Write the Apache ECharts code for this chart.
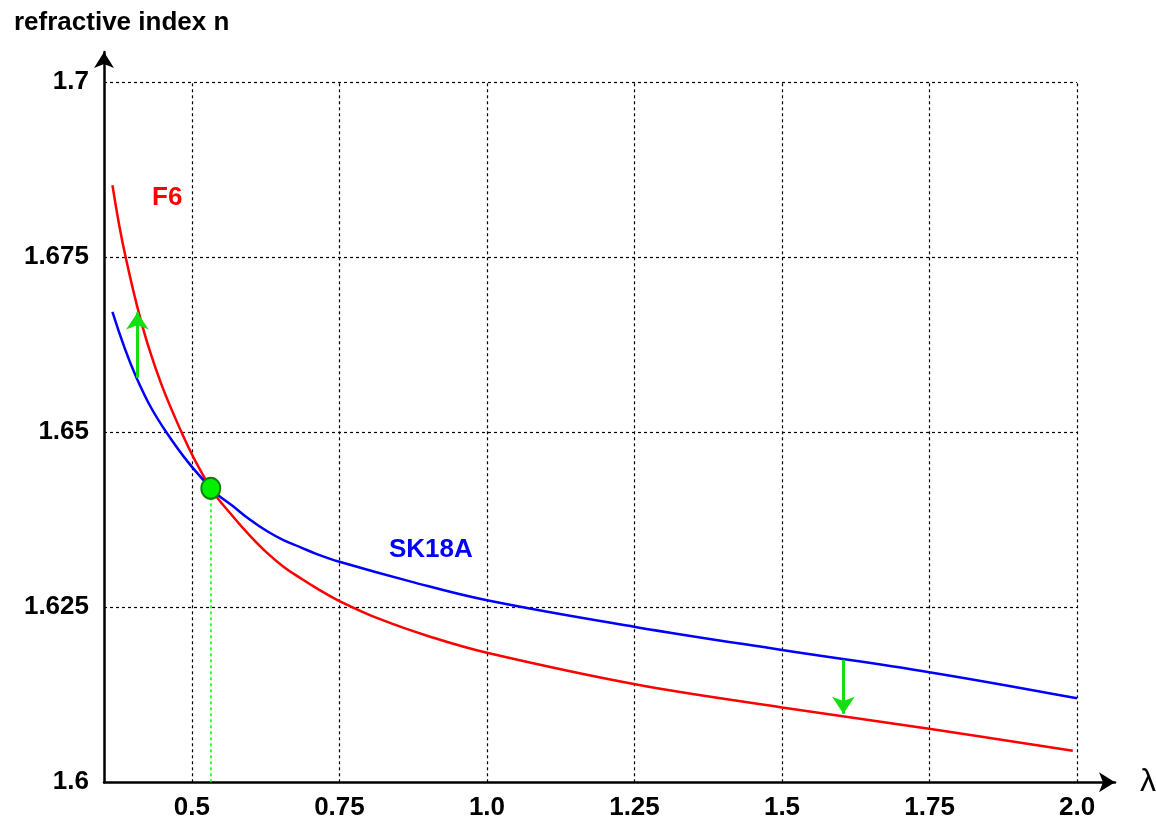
<!DOCTYPE html>
<html>
<head>
<meta charset="utf-8">
<script src="https://cdn.jsdelivr.net/npm/echarts@6/dist/echarts.min.js"></script>
<style>
html,body{margin:0;padding:0;background:#fff;}
#chart{width:1156px;height:816px;}
</style>
</head>
<body>
<div id="chart"></div>
<script>
// ---- data ----
const lambdaF6 = [0.3653, 0.388, 0.428, 0.4829, 0.532, 0.5703, 0.5986, 0.6269, 0.6551, 0.6834, 0.7117, 0.75, 0.8189, 0.9036, 1.0, 1.2511, 1.5002, 1.7521, 1.9928];
const nF6      = [1.6853, 1.6749, 1.6618, 1.6499, 1.6420, 1.6379, 1.6352, 1.6328, 1.6308, 1.6292, 1.6277, 1.6259, 1.6233, 1.6208, 1.6185, 1.6140, 1.6107, 1.6076, 1.6045];
const lambdaSK18A = [0.3653, 0.4066, 0.4575, 0.532, 0.5703, 0.5986, 0.6269, 0.6551, 0.6834, 0.7117, 0.75, 0.8697, 1.0, 1.2511, 1.5, 1.7521, 2.0];
const nSK18A      = [1.6672, 1.6577, 1.6499, 1.6420, 1.6394, 1.6375, 1.6359, 1.6346, 1.6336, 1.6326, 1.6315, 1.6287, 1.6260, 1.6222, 1.6189, 1.6157, 1.6120];
const crossPoint = [0.532, 1.642];
const arrowUp   = [[0.4076, 1.6578], [0.4076, 1.6671]];
const arrowDown = [[1.604, 1.6175], [1.604, 1.6098]];
const xTickValues = [0.5, 0.75, 1.0, 1.25, 1.5, 1.75, 2.0];
const xTickLabels = ['0.5', '0.75', '1.0', '1.25', '1.5', '1.75', '2.0'];
const yTickValues = [1.6, 1.625, 1.65, 1.675, 1.7];
const yTickLabels = ['1.6', '1.625', '1.65', '1.675', '1.7'];
const xMin = 0.351, xMax = 2.0643, yMin = 1.6, yMax = 1.70433;
const gridXEnd = 2.0, gridYEnd = 1.7;

const FONT = '"Liberation Sans", Arial, sans-serif';

const gridLines = [];
xTickValues.forEach(v => gridLines.push({coords: [[v, yMin], [v, gridYEnd]]}));
yTickValues.forEach(v => { if (v !== yMin) gridLines.push({coords: [[xMin, v], [gridXEnd, v]]}); });

const chart = echarts.init(document.getElementById('chart'));
chart.setOption({
  animation: false,
  backgroundColor: '#fff',
  title: [
    {text: 'refractive index n', left: 9, top: 5, textStyle: {fontFamily: FONT, fontSize: 26, fontWeight: 'bold', color: '#000'}},
    {text: 'F6', left: 147, top: 180, textStyle: {fontFamily: FONT, fontSize: 26, fontWeight: 'bold', color: '#ff0000'}},
    {text: 'SK18A', left: 384, top: 532, textStyle: {fontFamily: FONT, fontSize: 26, fontWeight: 'bold', color: '#0000ff'}}
  ],
  grid: {left: 104, right: 41, top: 52, bottom: 33.7, containLabel: false, outerBoundsMode: 'none'},
  xAxis: {
    type: 'value', min: xMin, max: xMax,
    name: 'λ', nameLocation: 'end', nameGap: 25,
    nameTextStyle: {fontFamily: FONT, fontSize: 32, color: '#000', verticalAlign: 'middle', padding: [8, 0, 0, 0]},
    axisLine: {show: true, lineStyle: {color: '#000', width: 2.5}, symbol: ['none', 'arrow'], symbolSize: [15, 16]},
    axisTick: {show: false, customValues: xTickValues},
    splitLine: {show: false},
    axisLabel: {
      customValues: xTickValues, margin: 13,
      fontFamily: FONT, fontSize: 26, fontWeight: 'bold', color: '#000',
      formatter: v => { const i = xTickValues.findIndex(t => Math.abs(t - v) < 1e-6); return i >= 0 ? xTickLabels[i] : ''; }
    }
  },
  yAxis: {
    type: 'value', min: yMin, max: yMax,
    axisLine: {show: true, lineStyle: {color: '#000', width: 2.5}, symbol: ['none', 'arrow'], symbolSize: [15, 16]},
    axisTick: {show: false, customValues: yTickValues},
    splitLine: {show: false},
    axisLabel: {
      customValues: yTickValues, margin: 15,
      fontFamily: FONT, fontSize: 26, fontWeight: 'bold', color: '#000', padding: [5, 0, 0, 0],
      formatter: v => { const i = yTickValues.findIndex(t => Math.abs(t - v) < 1e-6); return i >= 0 ? yTickLabels[i] : ''; }
    }
  },
  series: [
    {
      type: 'lines', coordinateSystem: 'cartesian2d', polyline: false, silent: true, z: 1,
      lineStyle: {color: '#000', width: 1.2, type: [3, 3], opacity: 1},
      data: gridLines
    },
    {
      type: 'lines', coordinateSystem: 'cartesian2d', silent: true, z: 2,
      lineStyle: {color: '#00ff00', width: 1.5, type: [3, 3], opacity: 1},
      data: [{coords: [[crossPoint[0], yMin], crossPoint]}]
    },
    {
      name: 'F6', type: 'line', z: 3, smooth: 0.4, showSymbol: false,
      lineStyle: {color: '#ff0000', width: 2.5},
      data: lambdaF6.map((x, i) => [x, nF6[i]])
    },
    {
      name: 'SK18A', type: 'line', z: 3, smooth: 0.4, showSymbol: false,
      lineStyle: {color: '#0000ff', width: 2.5},
      data: lambdaSK18A.map((x, i) => [x, nSK18A[i]])
    },
    {
      type: 'lines', coordinateSystem: 'cartesian2d', silent: true, z: 4,
      symbol: ['none', 'arrow'], symbolSize: 17,
      lineStyle: {color: '#11e011', width: 3, opacity: 1},
      data: [{coords: arrowUp}, {coords: arrowDown}]
    },
    {
      type: 'scatter', z: 5, symbol: 'circle', symbolSize: [19, 21],
      itemStyle: {color: '#00f000', borderColor: '#0b800b', borderWidth: 2, opacity: 1},
      data: [crossPoint]
    }
  ]
});
</script>
</body>
</html>
